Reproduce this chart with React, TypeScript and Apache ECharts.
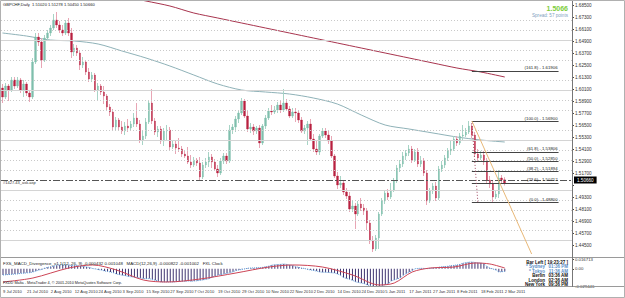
import React, { useEffect, useRef } from "react";
import * as echarts from "echarts";

// Daily bars (Mon-Fri), [open, close, low, high]
const jul: number[][] = [
  [1.602, 1.593, 1.587, 1.606], [1.593, 1.604, 1.591, 1.607], [1.604, 1.6, 1.589, 1.606], [1.6, 1.61, 1.598, 1.613],
  [1.61, 1.604, 1.601, 1.613], [1.604, 1.61, 1.602, 1.613], [1.61, 1.6, 1.597, 1.612], [1.6, 1.606, 1.593, 1.61],
  [1.606, 1.597, 1.594, 1.608], [1.597, 1.593, 1.588, 1.6], [1.593, 1.628, 1.591, 1.632], [1.628, 1.653, 1.626, 1.657],
  [1.653, 1.648, 1.644, 1.657], [1.648, 1.63, 1.622, 1.652], [1.63, 1.652, 1.628, 1.655], [1.652, 1.657, 1.649, 1.66],
];
const aug: number[][] = [
  [1.657, 1.662, 1.654, 1.665], [1.662, 1.67, 1.66, 1.676], [1.67, 1.665, 1.662, 1.678], [1.665, 1.66, 1.657, 1.669],
  [1.66, 1.657, 1.654, 1.665], [1.657, 1.667, 1.655, 1.67], [1.667, 1.657, 1.654, 1.672], [1.657, 1.638, 1.632, 1.662],
  [1.638, 1.642, 1.634, 1.646], [1.642, 1.637, 1.634, 1.645], [1.637, 1.625, 1.62, 1.64], [1.625, 1.628, 1.622, 1.633],
  [1.628, 1.618, 1.615, 1.63], [1.618, 1.611, 1.608, 1.622], [1.611, 1.615, 1.608, 1.618], [1.615, 1.6, 1.598, 1.617],
  [1.6, 1.604, 1.59, 1.607], [1.604, 1.598, 1.595, 1.606], [1.598, 1.594, 1.586, 1.604], [1.594, 1.583, 1.58, 1.596],
  [1.583, 1.578, 1.574, 1.586], [1.578, 1.563, 1.56, 1.581], [1.563, 1.57, 1.559, 1.573],
];
const sep: number[][] = [
  [1.57, 1.563, 1.56, 1.572], [1.563, 1.559, 1.556, 1.569], [1.559, 1.564, 1.555, 1.568], [1.564, 1.562, 1.558, 1.571],
  [1.562, 1.566, 1.56, 1.569], [1.566, 1.572, 1.563, 1.577], [1.572, 1.566, 1.563, 1.587], [1.566, 1.55, 1.547, 1.57],
  [1.55, 1.554, 1.545, 1.559], [1.554, 1.568, 1.551, 1.572], [1.568, 1.587, 1.566, 1.59], [1.587, 1.569, 1.566, 1.601],
  [1.569, 1.558, 1.555, 1.572], [1.558, 1.561, 1.553, 1.564], [1.561, 1.549, 1.546, 1.564], [1.549, 1.559, 1.544, 1.562],
  [1.559, 1.56, 1.549, 1.565], [1.56, 1.543, 1.54, 1.563], [1.543, 1.546, 1.541, 1.55], [1.546, 1.542, 1.536, 1.55],
];
const oct: number[][] = [
  [1.542, 1.541, 1.538, 1.552], [1.541, 1.536, 1.533, 1.544], [1.536, 1.534, 1.532, 1.54], [1.534, 1.528, 1.526, 1.543],
  [1.528, 1.525, 1.522, 1.535], [1.525, 1.53, 1.523, 1.533], [1.53, 1.527, 1.524, 1.532], [1.527, 1.513, 1.51, 1.533],
  [1.513, 1.525, 1.511, 1.528], [1.525, 1.528, 1.522, 1.532], [1.528, 1.533, 1.523, 1.538], [1.533, 1.528, 1.522, 1.536],
  [1.528, 1.521, 1.519, 1.531], [1.521, 1.517, 1.513, 1.525], [1.517, 1.529, 1.515, 1.532], [1.529, 1.534, 1.526, 1.537],
  [1.534, 1.529, 1.526, 1.537], [1.529, 1.56, 1.527, 1.565], [1.56, 1.563, 1.556, 1.566], [1.563, 1.571, 1.558, 1.574],
  [1.571, 1.577, 1.567, 1.58], [1.577, 1.589, 1.575, 1.592],
];
const nov: number[][] = [
  [1.589, 1.574, 1.572, 1.591], [1.574, 1.561, 1.558, 1.579], [1.561, 1.563, 1.557, 1.567], [1.563, 1.559, 1.555, 1.566],
  [1.559, 1.562, 1.556, 1.564], [1.562, 1.547, 1.542, 1.565], [1.547, 1.564, 1.545, 1.566], [1.564, 1.572, 1.561, 1.575],
  [1.572, 1.579, 1.57, 1.582], [1.579, 1.578, 1.575, 1.585], [1.578, 1.58, 1.576, 1.584], [1.58, 1.585, 1.577, 1.588],
  [1.585, 1.58, 1.577, 1.59], [1.58, 1.587, 1.578, 1.601], [1.587, 1.581, 1.579, 1.591], [1.581, 1.574, 1.572, 1.584],
  [1.574, 1.578, 1.572, 1.582], [1.578, 1.577, 1.568, 1.582], [1.577, 1.57, 1.567, 1.58], [1.57, 1.559, 1.557, 1.573],
  [1.559, 1.562, 1.556, 1.565], [1.562, 1.566, 1.545, 1.569],
];
const dec: number[][] = [
  [1.566, 1.551, 1.549, 1.571], [1.551, 1.541, 1.538, 1.556], [1.541, 1.538, 1.535, 1.549], [1.538, 1.554, 1.535, 1.556],
  [1.554, 1.559, 1.552, 1.562], [1.559, 1.555, 1.552, 1.562], [1.555, 1.549, 1.546, 1.559], [1.549, 1.534, 1.532, 1.554],
  [1.534, 1.514, 1.512, 1.536], [1.514, 1.505, 1.501, 1.518], [1.505, 1.507, 1.502, 1.514], [1.507, 1.498, 1.495, 1.51],
  [1.498, 1.494, 1.491, 1.502], [1.494, 1.481, 1.478, 1.498], [1.481, 1.484, 1.478, 1.489], [1.484, 1.476, 1.461, 1.487],
  [1.476, 1.486, 1.474, 1.489], [1.486, 1.482, 1.479, 1.492], [1.482, 1.479, 1.475, 1.486], [1.479, 1.467, 1.46, 1.482],
  [1.467, 1.449, 1.446, 1.47], [1.449, 1.441, 1.438, 1.454], [1.441, 1.452, 1.439, 1.455],
];
const jan: number[][] = [
  [1.452, 1.476, 1.441, 1.478], [1.476, 1.489, 1.474, 1.492], [1.489, 1.497, 1.486, 1.5], [1.497, 1.493, 1.49, 1.501],
  [1.493, 1.5, 1.491, 1.507], [1.5, 1.509, 1.498, 1.512], [1.509, 1.522, 1.507, 1.525], [1.522, 1.526, 1.518, 1.53],
  [1.526, 1.534, 1.523, 1.538], [1.534, 1.537, 1.53, 1.54], [1.537, 1.541, 1.534, 1.545], [1.541, 1.53, 1.527, 1.544],
  [1.53, 1.538, 1.528, 1.541], [1.538, 1.526, 1.523, 1.542], [1.526, 1.529, 1.523, 1.534], [1.529, 1.517, 1.514, 1.532],
  [1.517, 1.489, 1.485, 1.52], [1.489, 1.499, 1.487, 1.502], [1.499, 1.504, 1.496, 1.507], [1.504, 1.492, 1.489, 1.508],
  [1.492, 1.521, 1.49, 1.524],
];
const febMar: number[][] = [
  [1.521, 1.525, 1.518, 1.529], [1.525, 1.532, 1.522, 1.535], [1.532, 1.539, 1.529, 1.542], [1.539, 1.541, 1.535, 1.55],
  [1.541, 1.551, 1.539, 1.554], [1.551, 1.547, 1.544, 1.554], [1.547, 1.554, 1.545, 1.557], [1.554, 1.555, 1.55, 1.565],
  [1.555, 1.558, 1.553, 1.562], [1.558, 1.564, 1.556, 1.569], [1.564, 1.555, 1.552, 1.566], [1.555, 1.536, 1.533, 1.558],
  [1.536, 1.532, 1.528, 1.541], [1.532, 1.535, 1.53, 1.539], [1.535, 1.528, 1.525, 1.539], [1.528, 1.51, 1.507, 1.532],
  [1.51, 1.506, 1.502, 1.514], [1.506, 1.493, 1.488, 1.509], [1.493, 1.496, 1.491, 1.5], [1.496, 1.512, 1.492, 1.52],
  [1.512, 1.5102, 1.506, 1.515], [1.5102, 1.5066, 1.5045, 1.51278],
];
const candles = [...jul, ...aug, ...sep, ...oct, ...nov, ...dec, ...jan, ...febMar];

// moving averages: [bar index, price]
const fastMa: number[][] = [
  [0, 1.657], [8, 1.654], [16, 1.65], [24, 1.649], [32, 1.646], [40, 1.639], [48, 1.632], [56, 1.624],
  [64, 1.615], [72, 1.606], [80, 1.6], [88, 1.598], [96, 1.596], [104, 1.592], [112, 1.586], [120, 1.575],
  [128, 1.565], [136, 1.561], [144, 1.557], [152, 1.553], [160, 1.55], [168, 1.548],
];
const slowMa: number[][] = [
  [40, 1.694], [48, 1.689], [56, 1.684], [64, 1.677], [72, 1.672], [80, 1.667], [88, 1.662], [96, 1.657],
  [104, 1.652], [112, 1.647], [120, 1.642], [128, 1.637], [136, 1.632], [144, 1.627], [152, 1.622], [160, 1.618], [168, 1.613],
];

// MACD pane: histogram, one value per bar
const macdJulAug = [
  -0.0106, -0.0102, -0.0098, -0.0095, -0.009, -0.0087, -0.0078, -0.0075, -0.007, -0.0066, -0.0055, -0.004,
  -0.0022, -0.0012, 0.0012, 0.0024, 0.0035, 0.0045, 0.0062, 0.0065, 0.0068, 0.0066, 0.0062, 0.0058,
  0.0056, 0.0052, 0.0047, 0.004, 0.0032, 0.0022, 0.0005, -0.0005, -0.0015, -0.0022, -0.0038, -0.0046,
  -0.0055, -0.0068, -0.009, -0.01,
];
const macdSepOct = [
  -0.011, -0.0118, -0.0132, -0.0138, -0.0143, -0.0148, -0.0158, -0.0165, -0.017, -0.0168, -0.0185, -0.0195,
  -0.021, -0.0226, -0.0226, -0.0224, -0.0228, -0.0226, -0.022, -0.0218, -0.0215, -0.0212, -0.021, -0.0212,
  -0.021, -0.0205, -0.0198, -0.019, -0.018, -0.017, -0.0145, -0.0125, -0.0106, -0.01, -0.0085, -0.0078,
  -0.0065, -0.0052, -0.003, -0.002,
];
const macdNovDec = [
  -0.001, -0.0002, 0.001, 0.0013, 0.0015, 0.0018, 0.0018, 0.0025, 0.0035, 0.0045, 0.0062, 0.0068,
  0.0072, 0.0076, 0.0082, 0.0075, 0.0065, 0.0055, 0.0035, 0.0025, 0.0013, 0.0005, -0.0012, -0.002,
  -0.003, -0.004, -0.0055, -0.0058, -0.006, -0.0063, -0.0068, -0.0072, -0.009, -0.011, -0.015, -0.0165,
  -0.018, -0.0195, -0.0222, -0.0235, -0.0245, -0.0255, -0.0277, -0.029,
];
const macdJanMar = [
  -0.03, -0.0308, -0.0305, -0.029, -0.027, -0.025, -0.021, -0.019, -0.0172, -0.0155, -0.011, -0.008,
  -0.0055, -0.003, 0.0002, 0.0006, 0.0008, 0.0006, 0.0002, 0.0008, 0.0013, 0.0018, 0.0028, 0.0033,
  0.0038, 0.0043, 0.0053, 0.0058, 0.0065, 0.0075, 0.0095, 0.0105, 0.0112, 0.0116, 0.0108, 0.0102,
  0.0099, 0.0085, 0.004, 0.0013, -0.0005, -0.002, -0.0055, -0.005, -0.0045,
];
const macdHist = [...macdJulAug, ...macdSepOct, ...macdNovDec, ...macdJanMar];
// signal line: [bar index, value]
const macdSignal: number[][] = [
  [0, -0.0226], [10, -0.0158], [22, 0.0013], [30, 0.0065], [38, -0.0021], [47, -0.0192], [55, -0.0226], [66, -0.0175],
  [78, -0.0072], [89, 0.003], [97, 0.0065], [107, 0.003], [117, -0.0106], [126, -0.0277], [131, -0.0243], [137, -0.0055],
  [143, 0.0013], [151, 0.003], [158, 0.0099], [163, 0.0082], [168, 0.0013],
];

const priceTicks = [
  1.433, 1.445, 1.457, 1.469, 1.481, 1.493, 1.505, 1.517, 1.529, 1.541, 1.553,
  1.565, 1.577, 1.589, 1.601, 1.613, 1.625, 1.637, 1.649, 1.661, 1.673, 1.685,
];
const priceLabels = [
  1.445, 1.457, 1.469, 1.481, 1.493, 1.517, 1.529, 1.541, 1.553,
  1.565, 1.577, 1.589, 1.601, 1.613, 1.625, 1.637, 1.649, 1.661, 1.673, 1.685,
];
const macdTicks = [-0.029446, 0, 0.016713];
const roundLevels = [1.45, 1.5, 1.55, 1.6, 1.65];
const bidPrice = 1.5066;
const askPrice = 1.5123;
const fibHigh = 1.569;
const fibLow = 1.488;
const fibLevels = [0, 23.6, 38.2, 50, 61.8, 100, 161.8];
const fibStartBar = 157;
const fibEndBar = 186;
const lastBar = 168;
const slotCount = 191;

const MONTHS = ["Jan", "Feb", "Mar", "Apr", "May", "Jun", "Jul", "Aug", "Sep", "Oct", "Nov", "Dec"];
function buildDates(n: number): string[] {
  const out: string[] = [];
  const d = new Date(Date.UTC(2010, 6, 9));
  while (out.length < n) {
    const wd = d.getUTCDay();
    if (wd !== 0 && wd !== 6) out.push(`${d.getUTCDate()} ${MONTHS[d.getUTCMonth()]} ${d.getUTCFullYear()}`);
    d.setUTCDate(d.getUTCDate() + 1);
  }
  return out;
}

const FONT = "'Liberation Sans', Arial, sans-serif";

function buildOption() {
  const dates = buildDates(slotCount);
  const bodies = candles.map(([o, c]) => [o, c, Math.min(o, c), Math.max(o, c)]);
  const dashDot = [7, 2, 2, 2];
  const fibMarks = fibLevels.map((lv) => {
    const p = fibLow + ((fibHigh - fibLow) * lv) / 100;
    return [
      { coord: [fibStartBar, p], label: { formatter: `(${lv.toFixed(1)}) - ${p.toFixed(5)}` } },
      { coord: [fibEndBar, p] },
    ];
  });

  const txt = (x: number, y: number, text: string, opts: any = {}) => ({
    type: "text",
    x,
    y,
    silent: true,
    z: 50,
    style: {
      text,
      fontSize: 4.5,
      fontFamily: FONT,
      fill: "#222",
      align: "left",
      verticalAlign: "middle",
      ...opts,
    },
  });

  return {
    animation: false,
    backgroundColor: "#ffffff",
    textStyle: { fontFamily: FONT },
    grid: [
      { left: 1, top: 0, width: 571, height: 257 },
      { left: 1, top: 259, width: 571, height: 27 },
    ],
    xAxis: [
      {
        type: "category", gridIndex: 0, data: dates, boundaryGap: true,
        axisLine: { show: false }, axisTick: { show: false }, axisLabel: { show: false }, splitLine: { show: false },
      },
      {
        type: "category", gridIndex: 1, data: dates, boundaryGap: true,
        axisLine: { show: false }, splitLine: { show: false }, axisTick: { show: false },
        axisLabel: {
          interval: 7,
          formatter: (v: string, i: number) => (i <= lastBar ? v : ""),
          align: "left", fontSize: 4.1, color: "#333", margin: 3, fontFamily: FONT,
        },
      },
    ],
    yAxis: [
      {
        type: "value", gridIndex: 0, position: "right", min: 1.433, max: 1.69,
        axisLine: { show: false }, splitLine: { show: false },
        axisTick: { show: true, length: 2, customValues: priceTicks, lineStyle: { color: "#444" } },
        axisLabel: {
          customValues: priceLabels, formatter: (v: number) => v.toFixed(5),
          fontSize: 4.6, color: "#333", margin: 3, fontFamily: FONT,
        },
      },
      {
        type: "value", gridIndex: 1, position: "right", min: -0.029446, max: 0.016713,
        axisLine: { show: false }, splitLine: { show: false },
        axisTick: { show: true, length: 2, customValues: macdTicks, lineStyle: { color: "#444" } },
        axisLabel: {
          customValues: macdTicks, formatter: (v: number) => (v === 0 ? "0.00" : v.toFixed(6)),
          fontSize: 4.3, color: "#333", margin: 3, fontFamily: FONT,
        },
      },
    ],
    series: [
      {
        name: "grid", type: "line", xAxisIndex: 0, yAxisIndex: 0, data: [], z: 0, silent: true,
        markLine: {
          silent: true, symbol: "none", animation: false, label: { show: false },
          data: [
            ...priceTicks.map((v) => ({ yAxis: v, lineStyle: { type: [1, 2], color: "#c9c9c9", width: 1 } })),
            ...roundLevels.map((v) => ({ yAxis: v, lineStyle: { type: "solid", color: "#d4d4d4", width: 1 } })),
          ],
        },
      },
      {
        name: "ma100", type: "line", xAxisIndex: 0, yAxisIndex: 0, data: fastMa, showSymbol: false,
        smooth: 0.3, lineStyle: { color: "#8fb2b8", width: 1 }, z: 2,
      },
      {
        name: "ma200", type: "line", xAxisIndex: 0, yAxisIndex: 0, data: slowMa, showSymbol: false,
        smooth: 0.3, lineStyle: { color: "#a8344e", width: 1 }, z: 2,
      },
      {
        name: "wicks", type: "candlestick", xAxisIndex: 0, yAxisIndex: 0, data: candles, barWidth: 1, z: 3,
        itemStyle: { color: "#a8d4c6", color0: "#e8a6b5", borderColor: "#a8d4c6", borderColor0: "#e8a6b5", borderWidth: 1 },
      },
      {
        name: "bodies", type: "candlestick", xAxisIndex: 0, yAxisIndex: 0, data: bodies, barWidth: 2, z: 4,
        itemStyle: { color: "#7fbfac", color0: "#b8203f", borderColor: "#7fbfac", borderColor0: "#b8203f", borderWidth: 0.3 },
      },
      {
        name: "levels", type: "line", xAxisIndex: 0, yAxisIndex: 0, data: [], z: 5, silent: true,
        markLine: {
          silent: true, symbol: "none", animation: false,
          data: [
            { yAxis: askPrice, lineStyle: { type: dashDot, color: "#e3a38c", width: 1 }, label: { show: false } },
            {
              yAxis: bidPrice, lineStyle: { type: dashDot, color: "#555555", width: 1 },
              label: {
                show: true, position: "end", formatter: bidPrice.toFixed(5), backgroundColor: "#000", color: "#fff",
                fontSize: 4.6, padding: [1, 3, 1, 3], distance: 2, fontFamily: FONT,
              },
            },
          ],
        },
      },
      {
        name: "fibo", type: "line", xAxisIndex: 0, yAxisIndex: 0, data: [], z: 6, silent: true,
        markLine: {
          silent: true, symbol: "none", animation: false,
          lineStyle: { type: "solid", color: "#444", width: 1 },
          label: { show: true, position: "insideEndTop", fontSize: 4.3, color: "#222", distance: 1, fontFamily: FONT },
          data: [
            ...fibMarks,
            [
              { coord: [fibStartBar, fibHigh], lineStyle: { color: "#e8b878", width: 1, type: "solid" }, label: { show: false } },
              { coord: [177, 1.436] },
            ],
            [
              { coord: [157, 1.567], lineStyle: { color: "#a04860", width: 1, type: [1, 2] }, label: { show: false } },
              { coord: [159, fibLow] },
            ],
          ],
        },
      },
      {
        name: "macdHist", type: "bar", xAxisIndex: 1, yAxisIndex: 1, data: macdHist, barWidth: 1,
        itemStyle: { color: "#3f3470" }, z: 2,
      },
      {
        name: "macdLine", type: "line", xAxisIndex: 1, yAxisIndex: 1, data: macdHist, showSymbol: false,
        lineStyle: { color: "#5a9ad8", width: 1, type: [1, 1] }, z: 3,
      },
      {
        name: "macdSignal", type: "line", xAxisIndex: 1, yAxisIndex: 1, data: macdSignal, showSymbol: false,
        smooth: 0.3, lineStyle: { color: "#cc4455", width: 1 }, z: 3,
      },
    ],
    graphic: [
      { type: "line", silent: true, z: 40, shape: { x1: 0, y1: 257.5, x2: 625, y2: 257.5 }, style: { stroke: "#9a9a9a", lineWidth: 1 } },
      { type: "line", silent: true, z: 40, shape: { x1: 0, y1: 286.5, x2: 625, y2: 286.5 }, style: { stroke: "#9a9a9a", lineWidth: 1 } },
      { type: "line", silent: true, z: 40, shape: { x1: 572.5, y1: 0, x2: 572.5, y2: 287 }, style: { stroke: "#777", lineWidth: 1 } },
      { type: "rect", silent: true, z: 40, shape: { x: 0.5, y: 0.5, width: 624, height: 297 }, style: { fill: "none", stroke: "#b0b0b0", lineWidth: 1 } },
      txt(3, 4, "GBPCHF,Daily  1.51020 1.51278 1.50450 1.50660", { fontSize: 4.1 }),
      txt(568, 8, "1.5066", { align: "right", fontSize: 7, fontWeight: "bold", fill: "#7ccd3a" }),
      txt(568, 15, "Spread: 57 points", { align: "right", fontSize: 4.6, fill: "#7f9fc0" }),
      txt(3, 182, "#1427.43_ask.asp", { fontSize: 4, fill: "#333" }),
      txt(3, 263, "FXS_MACD_Divergence_v1.1(12, 26, 9) -0.000432 0.001048   MACD(12,26,9) -0.000822 -0.001002   FXL Clock", { fontSize: 4.4 }),
      txt(3, 283, "FXDD Malta - MetaTrader 4, \u00a9 2001-2010 MetaQuotes Software Corp.", { fontSize: 3.8 }),
      txt(568, 262, "Bar Left [ 19:23:27 ]", { align: "right", fontWeight: "bold", fontSize: 4.5, fill: "#111" }),
      txt(545, 266.5, "* Sydney", { align: "right", fontWeight: "bold", fontSize: 4.5, fill: "#5b8fc8" }),
      txt(568, 266.5, "01:36 PM", { align: "right", fontWeight: "bold", fontSize: 4.5, fill: "#5b8fc8" }),
      txt(545, 271, "* Tokyo", { align: "right", fontWeight: "bold", fontSize: 4.5, fill: "#5b8fc8" }),
      txt(568, 271, "11:36 AM", { align: "right", fontWeight: "bold", fontSize: 4.5, fill: "#5b8fc8" }),
      txt(545, 275.5, "Berlin", { align: "right", fontWeight: "bold", fontSize: 4.5, fill: "#111" }),
      txt(568, 275.5, "03:36 AM", { align: "right", fontWeight: "bold", fontSize: 4.5, fill: "#111" }),
      txt(545, 280, "London", { align: "right", fontWeight: "bold", fontSize: 4.5, fill: "#111" }),
      txt(568, 280, "02:36 AM", { align: "right", fontWeight: "bold", fontSize: 4.5, fill: "#111" }),
      txt(545, 284.5, "New York", { align: "right", fontWeight: "bold", fontSize: 4.5, fill: "#111" }),
      txt(568, 284.5, "09:36 PM", { align: "right", fontWeight: "bold", fontSize: 4.5, fill: "#111" }),
    ],
  };
}

export default function App() {
  const ref = useRef<HTMLDivElement>(null);
  useEffect(() => {
    if (!ref.current) return;
    const chart = echarts.init(ref.current, null, { renderer: "svg" });
    chart.setOption(buildOption() as any);
    return () => chart.dispose();
  }, []);
  return (
    <div
      ref={ref}
      style={{ position: "fixed", left: 0, top: 0, width: 625, height: 298, background: "#fff" }}
    />
  );
}
